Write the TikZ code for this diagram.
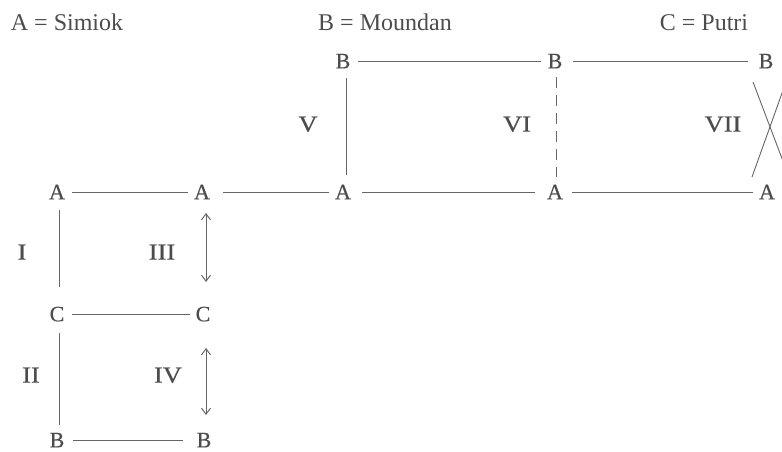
\documentclass[tikz,border=0pt]{standalone}
\usepackage{fontspec}
\setmainfont{Liberation Serif}
\newfontfamily\romfont[FakeStretch=1.15,FakeBold=0.6]{Liberation Serif}
\newfontfamily\letfont[FakeBold=0.4]{Liberation Serif}
\usetikzlibrary{arrows.meta}
\definecolor{ink}{gray}{0.3}
\definecolor{lineink}{gray}{0.4}
\tikzset{
  letter/.style={font=\letfont\fontsize{22}{26}\selectfont, text=ink, inner sep=0pt, text height=14.6pt, text depth=0pt},
  header/.style={font=\fontsize{24}{28}\selectfont, text=ink, inner sep=0pt, text height=15.9pt, text depth=0pt},
  roman/.style={font=\romfont\fontsize{23}{27}\selectfont, text=ink, inner sep=0pt, text height=15.2pt, text depth=0pt},
  link/.style={draw=lineink, line width=0.9pt},
  dlink/.style={link, dash pattern=on 11pt off 7pt},
  darrow/.style={link, line width=1pt, {Straight Barb[length=6pt,width=9pt]}-{Straight Barb[length=6pt,width=9pt]}},
}
\begin{document}
\begin{tikzpicture}[x=1pt,y=-1pt]
\useasboundingbox (0,0) rectangle (782,452);
% header
\node[header] (hA) at (67,22.5) {A = Simiok};
\node[header] (hB) at (385,22.5) {B = Moundan};
\node[header] (hC) at (704,22.5) {C = Putri};
% top row B
\node[letter] (B3) at (343,61) {B};
\node[letter] (B4) at (555,61) {B};
\node[letter] (B5) at (766,61) {B};
% row A
\node[letter] (A1) at (57,192) {A};
\node[letter] (A2) at (202,192) {A};
\node[letter] (A3) at (343,192) {A};
\node[letter] (A4) at (555,192) {A};
\node[letter] (A5) at (767,192) {A};
% row C
\node[letter] (C1) at (57,314) {C};
\node[letter] (C2) at (203,314) {C};
% row B bottom
\node[letter] (B1) at (57,440) {B};
\node[letter] (B2) at (204,440) {B};
% roman labels
\node[roman] (rI) at (22,252) {I};
\node[roman] (rIII) at (162,252) {III};
\node[roman] (rII) at (31,375) {II};
\node[roman] (rIV) at (168,375) {IV};
\node[roman] (rV) at (308,124) {V};
\node[roman] (rVI) at (517,124) {VI};
\node[roman] (rVII) at (723,124) {VII};
% horizontal links
\draw[link, shorten <=15pt, shorten >=14pt] (B3.center) -- (B4.center);
\draw[link, shorten <=18pt, shorten >=18pt] (B4.center) -- (B5.center);
\draw[link, shorten <=15pt, shorten >=14pt] (A1.center) -- (A2.center);
\draw[link, shorten <=21pt, shorten >=14pt] (A2.center) -- (A3.center);
\draw[link, shorten <=19pt, shorten >=20pt] (A3.center) -- (A4.center);
\draw[link, shorten <=17pt, shorten >=14pt] (A4.center) -- (A5.center);
\draw[link, shorten <=15pt, shorten >=13pt] (C1.center) -- (C2.center);
\draw[link, shorten <=16pt, shorten >=21pt] (B1.center) -- (B2.center);
% vertical links
\draw[link, shorten <=17pt, shorten >=17pt] ([xshift=3pt]B3.center) -- ([xshift=3pt]A3.center);
\draw[dlink, shorten <=16pt, shorten >=15pt] ([xshift=1pt]B4.center) -- ([xshift=1pt]A4.center);
\draw[link, shorten <=18pt, shorten >=27pt] ([xshift=2pt]A1.center) -- ([xshift=2pt]C1.center);
\draw[link, shorten <=19pt, shorten >=15pt] ([xshift=2pt]C1.center) -- ([xshift=2pt]B1.center);
\draw[darrow, shorten <=21pt, shorten >=32pt] ([xshift=4pt]A2.center) -- ([xshift=3pt]C2.center);
\draw[darrow, shorten <=34pt, shorten >=25pt] ([xshift=3pt]C2.center) -- ([xshift=2pt]B2.center);
% cross VII
\coordinate (x1) at (753,82);
\coordinate (x2) at (789,177);
\coordinate (x3) at (752,177);
\coordinate (x4) at (786,82);
\draw[link] (x1) -- (x2);
\draw[link] (x3) -- (x4);
\end{tikzpicture}
\end{document}
